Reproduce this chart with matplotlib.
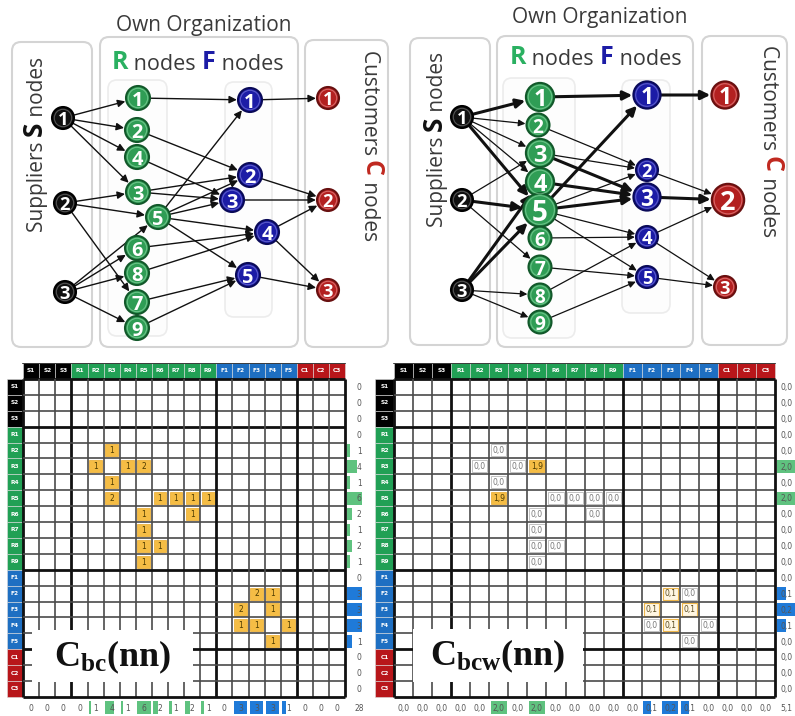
import matplotlib
matplotlib.use("Agg")
import matplotlib.pyplot as plt
from matplotlib.patches import Circle, Rectangle, FancyBboxPatch

plt.rcParams["mathtext.fontset"] = "custom"
plt.rcParams["mathtext.rm"] = "Liberation Serif"
plt.rcParams["mathtext.bf"] = "Liberation Serif:bold"
plt.rcParams["mathtext.it"] = "Liberation Serif:italic"

UI_FONT = "Open Sans"

# ------------------------------------------------------------------ data
# Supply chain: suppliers S, own organisation (R and F nodes), customers C
S_NODES = [1, 2, 3]
R_NODES = [1, 2, 3, 4, 5, 6, 7, 8, 9]
F_NODES = [1, 2, 3, 4, 5]
C_NODES = [1, 2, 3]

# unweighted network: (source id, target id)
A_LINKS_SR = [(1, 1), (1, 2), (1, 4), (1, 3), (2, 3), (2, 5), (2, 7),
              (3, 5), (3, 6), (3, 8), (3, 9)]
A_LINKS_RF = [(1, 1), (2, 2), (3, 2), (3, 3), (4, 3), (5, 1), (5, 2), (5, 3),
              (5, 4), (5, 5), (6, 4), (8, 4), (7, 5), (9, 5)]
A_LINKS_FC = [(1, 1), (2, 2), (3, 2), (4, 2), (4, 3), (5, 3)]

# weighted network: (source id, target id, heavy flow)
B_LINKS_SR = [(1, 1, 1), (1, 2, 0), (1, 3, 0), (1, 4, 0), (1, 5, 1),
              (2, 3, 0), (2, 5, 1), (2, 7, 0),
              (3, 4, 1), (3, 5, 1), (3, 8, 0), (3, 9, 0)]
B_LINKS_RF = [(1, 1, 1), (2, 2, 0), (3, 2, 0), (3, 3, 1), (4, 3, 1),
              (5, 1, 1), (5, 2, 0), (5, 3, 1), (5, 4, 0), (5, 5, 0),
              (6, 4, 0), (7, 5, 0), (8, 4, 0), (9, 5, 0)]
B_LINKS_FC = [(1, 1, 1), (2, 2, 0), (3, 2, 1), (4, 2, 0), (4, 3, 0), (5, 3, 0)]

# node prominence in the weighted network (0 = base size)
B_LEVEL = {
    "S": [0, 0, 0],
    "R": [1, 0, 1, 1, 2, 0, 0, 0, 0],
    "F": [1, 0, 1, 0, 0],
    "C": [1, 2, 0],
}

# betweenness matrices
MATRIX_LABELS = ["S1", "S2", "S3",
                 "R1", "R2", "R3", "R4", "R5", "R6", "R7", "R8", "R9",
                 "F1", "F2", "F3", "F4", "F5",
                 "C1", "C2", "C3"]

CBC_CELLS = [("R2", "R3", 1), ("R3", "R2", 1), ("R3", "R4", 1), ("R3", "R5", 2),
             ("R4", "R3", 1), ("R5", "R3", 2), ("R5", "R6", 1), ("R5", "R7", 1),
             ("R5", "R8", 1), ("R5", "R9", 1), ("R6", "R5", 1), ("R6", "R8", 1),
             ("R7", "R5", 1), ("R8", "R5", 1), ("R8", "R6", 1), ("R9", "R5", 1),
             ("F2", "F3", 2), ("F2", "F4", 1), ("F3", "F2", 2), ("F3", "F4", 1),
             ("F4", "F2", 1), ("F4", "F3", 1), ("F4", "F5", 1), ("F5", "F4", 1)]

CBCW_CELLS = [("R2", "R3", 0.0), ("R3", "R2", 0.0), ("R3", "R4", 0.0), ("R3", "R5", 1.9),
              ("R4", "R3", 0.0), ("R5", "R3", 1.9), ("R5", "R6", 0.0), ("R5", "R7", 0.0),
              ("R5", "R8", 0.0), ("R5", "R9", 0.0), ("R6", "R5", 0.0), ("R6", "R8", 0.0),
              ("R7", "R5", 0.0), ("R8", "R5", 0.0), ("R8", "R6", 0.0), ("R9", "R5", 0.0),
              ("F2", "F3", 0.1), ("F2", "F4", 0.0), ("F3", "F2", 0.1), ("F3", "F4", 0.1),
              ("F4", "F2", 0.0), ("F4", "F3", 0.1), ("F4", "F5", 0.0), ("F5", "F4", 0.0)]
CBCW_ROW_TOTALS = [0.0, 0.0, 0.0,
                   0.0, 0.0, 2.0, 0.0, 2.0, 0.0, 0.0, 0.0, 0.0,
                   0.0, 0.1, 0.2, 0.1, 0.0,
                   0.0, 0.0, 0.0]
CBCW_COL_TOTALS = [0.0, 0.0, 0.0,
                   0.0, 0.0, 2.0, 0.0, 2.0, 0.0, 0.0, 0.0, 0.0,
                   0.0, 0.1, 0.2, 0.1, 0.0,
                   0.0, 0.0, 0.0]
CBCW_GRAND_TOTAL = 5.1

# ------------------------------------------------------------------ layout
A_POS = {
    "S": [(63, 118), (65, 203), (65, 292)],
    "R": [(138, 98), (137, 130), (138, 192), (137, 157), (158, 217),
          (137, 248), (137, 302), (137, 273), (137, 328)],
    "F": [(250, 100), (250, 175), (232, 200), (267, 232), (248, 275)],
    "C": [(328, 98), (328, 200), (328, 290)],
}
A_RADIUS = {"S": 11, "R": 12, "F": 12, "C": 11}

B_POS = {
    "S": [(462, 117), (462, 200), (462, 290)],
    "R": [(540, 97), (538, 125), (540, 153), (540, 182), (540, 210),
          (540, 238), (540, 267), (540, 295), (540, 322)],
    "F": [(647, 95), (647, 170), (647, 197), (647, 237), (647, 277)],
    "C": [(725, 95), (728, 200), (725, 287)],
}
B_BASE = {"S": 11, "R": 11.5, "F": 11, "C": 11}
B_STEP = 2.6

TIER_STYLE = {
    "S": ("#101010", "#000000", "#8a8a8a"),
    "R": ("#2f9d55", "#12582a", "#9be0b0"),
    "F": ("#1c1ca6", "#0a0a58", "#8f8fe6"),
    "C": ("#b32020", "#681010", "#f0a0a0"),
}
GREEN = "#21a055"
BLUE = "#1e6fc2"
RED = "#b8161a"
TEXT = "#3a3a3a"

fig = plt.figure(figsize=(7.95, 7.16), dpi=100)
fig.patch.set_facecolor("white")
ax = fig.add_axes([0, 0, 1, 1])
ax.set_xlim(0, 795)
ax.set_ylim(716, 0)
ax.axis("off")


def rbox(x0, y0, x1, y1, ec, lw=1.4, fc="white", z=0):
    ax.add_patch(FancyBboxPatch((x0, y0), x1 - x0, y1 - y0,
                                boxstyle="round,pad=0,rounding_size=9",
                                fc=fc, ec=ec, lw=lw, zorder=z))


def draw_node(xy, r, tier, num):
    face, edge, ring = TIER_STYLE[tier]
    ax.add_patch(Circle(xy, r, fc=face, ec=edge, lw=1.5, zorder=4))
    ax.add_patch(Circle(xy, r - 2.3, fc="none", ec=ring, lw=0.8, alpha=0.55, zorder=5))
    ax.text(xy[0], xy[1] + 0.3, str(num), color="white", fontsize=r * 1.2,
            fontweight="bold", family=UI_FONT, ha="center", va="center_baseline",
            zorder=6)


def draw_link(p0, p1, r0, r1, lw, scale):
    ax.annotate("", xy=p1, xytext=p0,
                arrowprops=dict(arrowstyle="-|>,head_length=0.45,head_width=0.22",
                                color="#111111", lw=lw, mutation_scale=scale,
                                shrinkA=r0 * 0.72 + 0.5, shrinkB=r1 * 0.72 + 0.8),
                zorder=3)


def panel_frame(dx, title_y, rn_xy, sup_x, sup_y, cus_x, cus_y, boxes, inner):
    for (x0, y0, x1, y1) in boxes:
        rbox(x0, y0, x1, y1, "#d4d4d4", lw=1.5)
    for (x0, y0, x1, y1) in inner:
        rbox(x0, y0, x1, y1, "#ececec", lw=1.2, fc="#fdfdfd", z=1)
    ax.text(dx, title_y, "Own Organization", fontsize=15, family=UI_FONT,
            color=TEXT, ha="center", va="center")
    # "R nodes F nodes"
    t = ax.text(rn_xy[0], rn_xy[1], "R", fontsize=18, fontweight="bold",
                color="#2ab061", family=UI_FONT, va="baseline", ha="left")
    t = ax.annotate(" nodes ", xy=(1, 0), xycoords=t, fontsize=15.5,
                    family=UI_FONT, color=TEXT, va="bottom", ha="left")
    t = ax.annotate("F", xy=(1, 0), xycoords=t, fontsize=18, fontweight="bold",
                    family=UI_FONT, color="#1c1ca6", va="bottom", ha="left")
    ax.annotate(" nodes", xy=(1, 0), xycoords=t, fontsize=15.5,
                family=UI_FONT, color=TEXT, va="bottom", ha="left")
    # vertical supplier label (reads upward)
    t = ax.text(sup_x, sup_y, "Suppliers ", rotation=90, fontsize=15,
                family=UI_FONT, color=TEXT, ha="right", va="bottom")
    t = ax.annotate("S", xy=(1, 1), xycoords=t, rotation=90, fontsize=19,
                    fontweight="bold", family=UI_FONT, color="#111111",
                    ha="right", va="bottom")
    ax.annotate(" nodes", xy=(1, 1), xycoords=t, rotation=90, fontsize=15,
                family=UI_FONT, color=TEXT, ha="right", va="bottom")
    # vertical customer label (reads downward)
    t = ax.text(cus_x, cus_y, "Customers ", rotation=-90, fontsize=15,
                family=UI_FONT, color=TEXT, ha="left", va="top")
    t = ax.annotate("C", xy=(0, 0), xycoords=t, rotation=-90, fontsize=18,
                    fontweight="bold", family=UI_FONT, color="#c0281f",
                    ha="left", va="top")
    ax.annotate(" nodes", xy=(0, 0), xycoords=t, rotation=-90, fontsize=15,
                family=UI_FONT, color=TEXT, ha="left", va="top")


# ---------------------------------------------------------------- left network
panel_frame(204, 25, (112, 69), 48, 232, 359, 50,
            [(12, 42, 92, 347), (100, 37, 298, 347), (305, 40, 388, 347)],
            [(108, 80, 167, 336), (225, 82, 272, 317)])

for tiers, links in ((("S", "R"), A_LINKS_SR), (("R", "F"), A_LINKS_RF),
                     (("F", "C"), A_LINKS_FC)):
    ta, tb = tiers
    for a, b in links:
        draw_link(A_POS[ta][a - 1], A_POS[tb][b - 1], A_RADIUS[ta], A_RADIUS[tb], 1.0, 10)

for tier, ids in (("S", S_NODES), ("R", R_NODES), ("F", F_NODES), ("C", C_NODES)):
    for k in ids:
        draw_node(A_POS[tier][k - 1], A_RADIUS[tier], tier, k)

# --------------------------------------------------------------- right network
panel_frame(600, 18, (510, 64), 448, 227, 758, 45,
            [(410, 38, 490, 345), (497, 36, 693, 347), (702, 36, 787, 345)],
            [(503, 78, 575, 338), (622, 80, 670, 313)])


def b_radius(tier, k):
    return B_BASE[tier] + B_STEP * B_LEVEL[tier][k - 1]


for tiers, links in ((("S", "R"), B_LINKS_SR), (("R", "F"), B_LINKS_RF),
                     (("F", "C"), B_LINKS_FC)):
    ta, tb = tiers
    for a, b, heavy in links:
        draw_link(B_POS[ta][a - 1], B_POS[tb][b - 1], b_radius(ta, a), b_radius(tb, b),
                  2.2 if heavy else 0.9, 12 if heavy else 9)

for tier, ids in (("S", S_NODES), ("R", R_NODES), ("F", F_NODES), ("C", C_NODES)):
    for k in ids:
        draw_node(B_POS[tier][k - 1], b_radius(tier, k), tier, k)


# -------------------------------------------------------------------- matrices
def group_colour(label):
    return {"S": "#000000", "R": GREEN, "F": BLUE, "C": RED}[label[0]]


def draw_matrix(mx, cells, fmt, row_tot, col_tot, grand, name, name_box, total_ha):
    n = len(MATRIX_LABELS)
    idx = {lab: i for i, lab in enumerate(MATRIX_LABELS)}
    # header row and label column
    for i, lab in enumerate(MATRIX_LABELS):
        c = group_colour(lab)
        mx.add_patch(Rectangle((i, -1), 1, 1, fc=c, ec="#dddddd", lw=0.4, zorder=2))
        mx.text(i + 0.5, -0.5, lab, color="white", fontsize=4.2, fontweight="bold",
                ha="center", va="center", zorder=3)
        mx.add_patch(Rectangle((-1, i), 1, 1, fc=c, ec="#dddddd", lw=0.4, zorder=2))
        mx.text(-0.5, i + 0.5, lab, color="white", fontsize=4.2, fontweight="bold",
                ha="center", va="center", zorder=3)
    # values
    for r, c, v in cells:
        i, j = idx[r], idx[c]
        if v >= 0.5:
            mx.add_patch(Rectangle((j + 0.1, i + 0.12), 0.8, 0.76, fc="#f5bd45",
                                   ec="#e9a92a", lw=0.5, zorder=2))
            col = "#4d3b00"
        elif v > 0:
            mx.add_patch(Rectangle((j + 0.1, i + 0.12), 0.8, 0.76, fc="#fff6e2",
                                   ec="#eeb64a", lw=0.8, zorder=2))
            col = "#5a4a20"
        else:
            mx.add_patch(Rectangle((j + 0.1, i + 0.12), 0.8, 0.76, fc="none",
                                   ec="#b8b8b8", lw=0.6, zorder=2))
            col = "#777777"
        mx.text(j + 0.5, i + 0.52, fmt(v), fontsize=5.5, color=col,
                ha="center", va="center", zorder=3)
    # grid
    major = (0, 3, 12, 17, 20)
    for k in range(n + 1):
        lw, colr = (2.0, "#111111") if k in major else (1.2, "#4a4a4a")
        mx.plot([0, n], [k, k], color=colr, lw=lw, zorder=4, solid_capstyle="butt")
        mx.plot([k, k], [0, n], color=colr, lw=lw, zorder=4, solid_capstyle="butt")
    mx.plot([0, n], [-1, -1], color="#222222", lw=1.2, zorder=4)
    # totals with data bars
    rmax = max(row_tot[3:12]) or 1
    fmax = max(row_tot[12:17]) or 1
    tx = n + 0.87 if total_ha == "center" else n + 0.3
    for i, lab in enumerate(MATRIX_LABELS):
        v = row_tot[i]
        if lab[0] in "RF" and v > 0:
            m = rmax if lab[0] == "R" else fmax
            mx.add_patch(Rectangle((n + 0.12, i + 0.1), 0.95 * v / m, 0.8,
                                   fc="#5fc27f" if lab[0] == "R" else "#1f7ad8",
                                   ec="none", zorder=2))
        mx.text(tx, i + 0.55, fmt(v), fontsize=5.5, color="#555555",
                ha=total_ha, va="center", zorder=3)
    cmax_r = max(col_tot[3:12]) or 1
    cmax_f = max(col_tot[12:17]) or 1
    for j, lab in enumerate(MATRIX_LABELS):
        v = col_tot[j]
        if lab[0] in "RF" and v > 0:
            m = cmax_r if lab[0] == "R" else cmax_f
            mx.add_patch(Rectangle((j + 0.08, n + 0.25), 0.84 * v / m, 0.85,
                                   fc="#5fc27f" if lab[0] == "R" else "#1f7ad8",
                                   ec="none", zorder=2))
        mx.text(j + 0.5, n + 0.7, fmt(v), fontsize=5.5, color="#555555",
                ha="center", va="center", zorder=3)
    mx.text(tx, n + 0.7, fmt(grand), fontsize=5.5, color="#555555",
            ha=total_ha, va="center", zorder=3)
    # matrix name
    (bx0, by0, bx1, by1) = name_box
    mx.add_patch(Rectangle((bx0, by0), bx1 - bx0, by1 - by0, fc="white",
                           ec="none", zorder=6))
    mx.text((bx0 + bx1) / 2, (by0 + by1) / 2 + 0.1, name, fontsize=26,
            color="#111111", ha="center", va="center", zorder=7)


def int_fmt(v):
    return "%d" % round(v)


def comma_fmt(v):
    return ("%.1f" % v).replace(".", ",")


W, H = 795.0, 716.0

# C_bc matrix: 16.1 px cells starting at x = 7
m1 = fig.add_axes([7 / W, 0, 22.2 * 16.1 / W, (H - 363) / H])
m1.set_xlim(-1, 21.2)
m1.set_ylim(21.2, -1)
m1.axis("off")
cbc_rows = [0] * len(MATRIX_LABELS)
cbc_cols = [0] * len(MATRIX_LABELS)
for r, c, v in CBC_CELLS:
    cbc_rows[MATRIX_LABELS.index(r)] += v
    cbc_cols[MATRIX_LABELS.index(c)] += v
draw_matrix(m1, CBC_CELLS, int_fmt, cbc_rows, cbc_cols, sum(cbc_rows),
            r"$\mathbf{C}_{\mathbf{bc}}\mathbf{(nn)}$", (0.55, 15.8, 10.55, 19.05),
            "center")

# C_bcw matrix: 19.05 px cells starting at x = 375
m2 = fig.add_axes([375 / W, 0, (W - 375) / W, (H - 363) / H])
m2.set_xlim(-1, (W - 375) / 19.05 - 1)
m2.set_ylim(21.2, -1)
m2.axis("off")
draw_matrix(m2, CBCW_CELLS, comma_fmt, CBCW_ROW_TOTALS, CBCW_COL_TOTALS,
            CBCW_GRAND_TOTAL, r"$\mathbf{C}_{\mathbf{bcw}}\mathbf{(nn)}$",
            (1.0, 15.7, 9.9, 19.05), "left")

fig.savefig("out.png", dpi=100, facecolor="white")
